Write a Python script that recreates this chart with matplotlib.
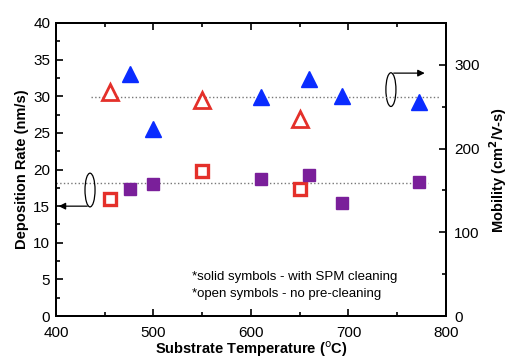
import matplotlib
matplotlib.use('Agg')
import matplotlib.pyplot as plt
from matplotlib.patches import Ellipse
from matplotlib.ticker import MultipleLocator

plt.rcParams['font.family'] = ['Liberation Sans', 'DejaVu Sans']

# Data
open_temp = [455, 550, 650]
open_rate = [16.0, 19.8, 17.3]
open_mob = [267, 258, 235]

solid_temp = [476, 500, 610, 660, 693, 772]
solid_rate = [17.4, 18.0, 18.7, 19.2, 15.4, 18.35]
solid_mob = [289, 223, 261, 283, 263, 256]

rate_avg = 18.1
mob_avg = 261

red = '#e4302a'
blue = '#0a2cff'
purple = '#7a1f9a'

fig = plt.figure(figsize=(5.08, 3.58), dpi=100)
ax = fig.add_axes([0.110, 0.117, 0.768, 0.819])
ax2 = ax.twinx()

# average lines
ax.plot([400, 782], [rate_avg, rate_avg], ls=':', color='#777777', lw=1.0, zorder=1)
ax2.plot([436, 794], [mob_avg, mob_avg], ls=':', color='#777777', lw=1.0, zorder=1)

# deposition rate (left axis)
ax.plot(open_temp, open_rate, 's', ms=8, mfc='white', mec=red, mew=2.4, zorder=3)
ax.plot(solid_temp, solid_rate, 's', ms=8, color=purple, mec=purple, zorder=3)

# mobility (right axis)
ax2.plot(open_temp, open_mob, '^', ms=11, mfc='white', mec=red, mew=2.0, zorder=3)
ax2.plot(solid_temp, solid_mob, '^', ms=11, color=blue, mec=blue, zorder=3)

ax.set_xlim(400, 800)
ax.set_ylim(0, 40)
ax2.set_ylim(0, 350)

ax.xaxis.set_major_locator(MultipleLocator(100))
ax.xaxis.set_minor_locator(MultipleLocator(50))
ax.yaxis.set_major_locator(MultipleLocator(5))
ax.yaxis.set_minor_locator(MultipleLocator(2.5))
ax2.yaxis.set_major_locator(MultipleLocator(100))
ax2.yaxis.set_minor_locator(MultipleLocator(50))

ax.tick_params(which='both', direction='in', top=True, right=False, labelsize=11, width=1.2)
ax.tick_params(axis='y', which='major', length=5, pad=4)
ax.tick_params(axis='x', which='major', length=5, pad=7)
ax.tick_params(which='minor', length=3)
ax2.tick_params(which='both', direction='in', labelsize=11, width=1.2)
ax2.tick_params(which='major', length=5, pad=6)
ax2.tick_params(which='minor', length=3)
for a in (ax, ax2):
    for s in a.spines.values():
        s.set_linewidth(1.4)

ax.set_xlabel('Substrate Temperature ($^{\\mathrm{o}}$C)', fontsize=10.5, fontweight='bold', labelpad=0)
ax.set_ylabel('Deposition Rate (nm/s)', fontsize=10.5, fontweight='bold', labelpad=3)
ax2.set_ylabel('Mobility (cm$^{\\mathbf{2}}$/V-s)', fontsize=10.5, fontweight='bold', labelpad=5)

# axis indicator ovals and arrows
ax.add_patch(Ellipse((435, 17.2), 10.3, 4.6, fill=False, ec='black', lw=0.9, zorder=4))
ax.annotate('', xy=(400, 15.0), xytext=(435, 15.0),
            arrowprops=dict(arrowstyle='-|>', color='black', lw=0.9, mutation_scale=10))
ax.add_patch(Ellipse((743.5, 30.9), 10.3, 4.6, fill=False, ec='black', lw=0.9, zorder=4))
ax.annotate('', xy=(781, 33.15), xytext=(743.5, 33.15),
            arrowprops=dict(arrowstyle='-|>', color='black', lw=0.9, mutation_scale=10))

ax.text(540, 5.4, '*solid symbols - with SPM cleaning', fontsize=9.5, va='center')
ax.text(540, 3.0, '*open symbols - no pre-cleaning', fontsize=9.5, va='center')

fig.savefig('out.png', dpi=100)
